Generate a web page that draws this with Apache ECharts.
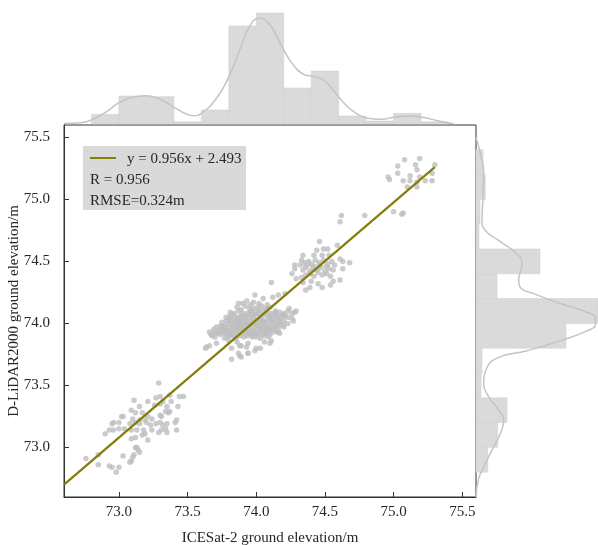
<!DOCTYPE html>
<html>
<head>
<meta charset="utf-8">
<script src="https://cdn.jsdelivr.net/npm/echarts@6/dist/echarts.min.js"></script>
<style>
  html, body { margin: 0; padding: 0; background: #fff; }
  #chart { width: 598px; height: 545px; }
</style>
</head>
<body>
<div id="chart"></div>
<script>
// axis ticks
const xTicks = [73.0, 73.5, 74.0, 74.5, 75.0, 75.5];
const yTicks = [73.0, 73.5, 74.0, 74.5, 75.0, 75.5];

// marginal histograms (bin edges shared by both)
const binEdges = [72.8, 73.0, 73.2, 73.4, 73.6, 73.8, 74.0, 74.2, 74.4, 74.6, 74.8, 75.0, 75.2, 75.4];
const topHist = [9.7, 28, 27.3, 2.3, 14, 98, 111, 36, 53, 8, 3, 10.7, 2.3];
const rightHist = [11.7, 21.7, 31, 5, 6, 90, 122, 21, 64, 3, 4, 9.3, 7];

// KDE curves
const topKdeX = [72.6, 72.72, 72.8, 72.91, 73.0, 73.1, 73.19, 73.3, 73.4, 73.49, 73.54, 73.6, 73.71, 73.8, 73.88, 73.95, 74.02, 74.09, 74.15, 74.2, 74.27, 74.34, 74.42, 74.49, 74.56, 74.63, 74.71, 74.81, 74.9, 75.0, 75.11, 75.21, 75.32, 75.44];
const topKdeY = [0.5, 1.3, 4, 12.3, 21.3, 26.7, 28.3, 24.7, 16.7, 10, 8.3, 10.7, 25.7, 47.3, 74, 97.3, 105.7, 100.7, 87.3, 74, 59, 50, 47.3, 44, 34, 22.3, 12.3, 5.7, 4.7, 6.7, 8, 6.7, 3.3, 0];
const rightKdeY = [75.5, 75.37, 75.21, 75.02, 74.83, 74.75, 74.66, 74.56, 74.48, 74.35, 74.29, 74.24, 74.16, 74.1, 74.04, 73.99, 73.94, 73.86, 73.78, 73.72, 73.63, 73.51, 73.41, 73.3, 73.22, 73.11, 72.98, 72.84, 72.75, 72.6];
const rightKdeX = [0, 4.3, 7.7, 7, 6, 9.3, 24.3, 41, 46, 42.7, 44.3, 57.7, 84.3, 107.7, 119.3, 119.3, 111, 84.3, 51, 21, 10.3, 7.7, 12.7, 22.7, 27.7, 24.3, 16, 7.7, 2.7, 0];

// scatter: [ICESat-2, D-LiDAR2000]
const clusterLow = [
  [73.29,73.52],[73.11,73.38],[73.15,73.33],[73.27,73.40],[73.30,73.41],[73.37,73.42],[73.44,73.41],[73.47,73.41],
  [73.21,73.37],[73.26,73.34],[73.30,73.35],[73.32,73.37],[73.35,73.33],[73.38,73.37],[73.43,73.33],[73.03,73.25],
  [73.02,73.25],[73.09,73.30],[73.12,73.28],[73.17,73.28],[73.21,73.25],[73.10,73.23],[73.15,73.22],[73.19,73.22],
  [73.24,73.23],[73.30,73.26],[73.31,73.25],[73.34,73.29],[73.36,73.28],[73.37,73.29],[72.96,73.20],[72.95,73.19],
  [73.00,73.20],[73.04,73.15],[73.08,73.19],[73.12,73.20],[73.15,73.19],[73.20,73.20],[73.23,73.18],[73.27,73.19],
  [73.30,73.20],[73.32,73.18],[73.35,73.19],[73.34,73.15],[73.41,73.20],[73.42,73.22],[72.90,73.11],[72.93,73.14],
  [72.96,73.14],[73.00,73.15],[73.09,73.14],[73.13,73.14],[73.18,73.14],[73.19,73.11],[73.24,73.14],[73.29,73.12],
  [73.31,73.14],[73.35,73.12],[73.42,73.14],[73.09,73.07],[73.12,73.08],[73.17,73.10],[73.21,73.06],[73.12,73.00],
  [73.14,72.98],[73.15,72.96],[73.10,72.92],[73.09,72.89],[73.03,72.93],[72.76,72.91],[72.85,72.94],[72.93,72.85],
  [72.95,72.84],[73.00,72.84],[72.98,72.80],[72.85,72.86],[73.11,72.94],[73.13,73.00],[73.08,72.88]
];
const clusterMid = [
  [74.11,74.33],[73.99,74.23],[74.05,74.20],[74.12,74.21],[74.16,74.23],[74.21,74.24],[73.87,74.16],[73.98,74.17],
  [74.28,74.09],[74.23,74.05],[73.75,73.98],[73.68,73.90],[73.72,73.92],[73.71,73.84],[73.64,73.81],[73.63,73.80],
  [73.82,73.80],[73.80,73.86],[73.89,73.82],[73.87,73.76],[73.82,73.71],[73.89,73.73],[73.94,73.76],[73.99,73.78],
  [74.00,73.80],[74.06,73.85],[74.11,73.86],[73.93,73.81],[73.86,73.85],[73.77,73.88],
  [73.86,74.13],[73.92,74.14],[73.98,74.12],[74.04,74.14],[74.10,74.13],
  [73.89,74.11],[73.96,74.10],[74.02,74.11],[74.08,74.12],[74.14,74.10],
  [73.81,74.09],[73.87,74.10],[73.93,74.08],[73.99,74.09],[74.05,74.10],[74.11,74.08],[74.17,74.09],[74.23,74.10],
  [73.83,74.07],[73.89,74.06],[73.96,74.07],[74.01,74.08],[74.08,74.06],[74.14,74.07],[74.20,74.07],
  [73.78,74.05],[73.85,74.04],[73.91,74.05],[73.97,74.06],[74.03,74.05],[74.09,74.04],[74.15,74.05],[74.21,74.06],
  [73.82,74.03],[73.88,74.02],[73.94,74.03],[74.00,74.03],[74.06,74.02],[74.12,74.03],[74.18,74.04],
  [73.75,74.01],[73.81,74.02],[73.87,74.01],[73.93,74.00],[73.99,74.01],[74.05,74.01],[74.11,74.02],[74.17,74.01],[74.23,74.00],
  [73.78,73.99],[73.84,73.98],[73.90,73.99],[73.96,74.00],[74.02,73.99],[74.08,73.98],[74.14,73.99],[74.20,73.99],
  [73.71,73.97],[73.77,73.96],[73.83,73.97],[73.89,73.97],[73.95,73.98],[74.02,73.97],[74.08,73.96],[74.14,73.97],[74.20,73.97],
  [73.74,73.95],[73.80,73.94],[73.86,73.95],[73.92,73.95],[73.98,73.94],[74.04,73.95],[74.10,73.95],[74.16,73.94],
  [73.70,73.93],[73.76,73.93],[73.82,73.92],[73.88,73.93],[73.94,73.93],[74.00,73.92],[74.06,73.93],[74.12,73.93],[74.17,73.92],
  [73.74,73.91],[73.80,73.90],[73.86,73.91],[73.92,73.91],[73.98,73.90],[74.04,73.91],[74.10,73.91],
  [73.79,73.89],[73.85,73.88],[73.91,73.89],[73.97,73.89],[74.03,73.88],[74.09,73.89],
  [73.95,74.12],[74.01,74.13],[74.07,74.12],
  [73.84,74.08],[73.90,74.08],[73.96,74.09],[74.02,74.09],[74.08,74.09],[74.14,74.09],[74.20,74.08],
  [73.81,74.06],[73.87,74.05],[73.93,74.06],[73.99,74.07],[74.05,74.07],[74.11,74.06],[74.17,74.06],
  [73.80,74.04],[73.86,74.03],[73.92,74.04],[73.98,74.04],[74.04,74.03],[74.10,74.05],[74.16,74.03],
  [73.78,74.02],[73.84,74.01],[73.90,74.02],[73.96,74.02],[74.02,74.02],[74.08,74.01],[74.14,74.02],[74.20,74.02],
  [73.81,74.00],[73.87,73.99],[73.93,74.01],[73.99,73.99],[74.05,74.00],[74.11,74.00],[74.17,73.99],
  [73.74,73.98],[73.80,73.97],[73.86,73.98],[73.92,73.98],[73.98,73.97],[74.05,73.98],[74.11,73.97],[74.17,73.98],
  [73.77,73.96],[73.83,73.95],[73.89,73.96],[73.95,73.96],[74.01,73.95],[74.07,73.96],[74.13,73.95],
  [73.73,73.94],[73.79,73.93],[73.85,73.94],[73.91,73.94],[73.97,73.93],[74.03,73.94],[74.09,73.94],[74.15,73.93],
  [73.77,73.92],[73.83,73.91],[73.89,73.92],[73.95,73.92],[74.01,73.91],[74.07,73.92],
  [73.82,73.90],[73.88,73.90],[73.94,73.90],[74.00,73.89],[74.06,73.90],
  [74.26,74.08],[74.29,74.10],[74.26,74.04],[74.24,74.12],[74.27,74.02],
  [73.67,73.91],[73.69,73.95],[73.66,73.93],[73.70,73.89],
  [73.90,74.16],[73.96,74.15],[74.02,74.16],[73.93,74.18],[74.08,74.15],
  [73.88,73.82],[73.94,73.84],[74.03,73.80],[74.10,73.84],[73.88,73.74],[73.94,73.76],[73.66,73.82]
];
const clusterHigh = [
  [74.62,74.87],[74.61,74.82],[74.79,74.87],[74.46,74.66],[74.59,74.63],[74.49,74.60],[74.52,74.60],[74.44,74.59],
  [74.42,74.55],[74.34,74.55],[74.28,74.47],[74.28,74.44],[74.26,74.40],[74.29,74.36],[74.34,74.33],[74.36,74.27],
  [74.39,74.29],[74.48,74.29],[74.54,74.31],[74.56,74.34],[74.61,74.35],[74.68,74.49],[74.63,74.50],[74.61,74.52],
  [74.63,74.44],[74.56,74.43],[74.53,74.55],[74.48,74.55],
  [74.33,74.51],[74.38,74.50],[74.43,74.51],[74.49,74.51],[74.55,74.50],[74.32,74.47],[74.37,74.47],[74.42,74.46],
  [74.46,74.47],[74.51,74.46],[74.57,74.47],[74.34,74.43],[74.39,74.42],[74.44,74.43],[74.50,74.42],[74.36,74.39],
  [74.42,74.38],[74.48,74.39],[74.54,74.38],[74.40,74.34],[74.45,74.32],[74.33,74.37],
  [74.35,74.49],[74.40,74.48],[74.46,74.49],[74.52,74.48],[74.36,74.45],[74.41,74.44],[74.47,74.45],[74.53,74.44],
  [74.39,74.40],[74.45,74.41],[74.51,74.40]
];
const clusterTop = [
  [75.08,75.32],[75.19,75.33],[75.03,75.27],[75.16,75.28],[75.30,75.28],[75.17,75.24],[74.96,75.18],[74.97,75.16],
  [75.03,75.21],[75.12,75.19],[75.19,75.18],[75.28,75.21],[75.07,75.15],[75.12,75.15],[75.17,75.14],[75.23,75.15],
  [75.28,75.15],[75.10,75.10],[75.17,75.10],[75.00,74.90],[75.06,74.88],[75.07,74.89]
];

// regression line as drawn
const fitX = [72.6, 75.3];
const fitY = [72.70, 75.26];

const serif = "'Liberation Serif', 'Times New Roman', serif";
const textColor = '#262626';
const olive = '#857d05';
const barGray = '#dadada';
const kdeGray = '#c4c4c4';

const chart = echarts.init(document.getElementById('chart'), null, { renderer: 'canvas' });

const topBins = topHist.map((h, i) => [binEdges[i], binEdges[i + 1], h]);
const rightBins = rightHist.map((w, i) => [binEdges[i], binEdges[i + 1], w]);

const valueAxisStyle = {
  axisLine: { show: true, onZero: false, lineStyle: { color: '#333', width: 1 } },
  splitLine: { show: false },
  nameMoveOverlap: false,
  nameTextStyle: { fontFamily: serif, fontSize: 15, color: textColor }
};

chart.setOption({
  animation: false,
  backgroundColor: '#fff',
  grid: [
    { left: 64, right: 122, top: 125, bottom: 48, show: true, borderColor: '#333', borderWidth: 1, outerBoundsMode: 'none', containLabel: false },
    { left: 64, right: 122, top: 10, bottom: 421, outerBoundsMode: 'none' },
    { left: 476, right: 0, top: 125, bottom: 48, outerBoundsMode: 'none' }
  ],
  xAxis: [
    Object.assign({
      gridIndex: 0, type: 'value', min: 72.6, max: 75.6,
      name: 'ICESat-2 ground elevation/m', nameLocation: 'middle', nameGap: 34,
      axisTick: { inside: true, length: 5, customValues: xTicks, lineStyle: { color: '#333' } },
      axisLabel: { customValues: xTicks, formatter: v => v.toFixed(1), margin: 8, fontFamily: serif, fontSize: 15, color: textColor }
    }, valueAxisStyle),
    { gridIndex: 1, type: 'value', min: 72.6, max: 75.6, show: false },
    { gridIndex: 2, type: 'value', min: 0, max: 122, show: false }
  ],
  yAxis: [
    Object.assign({
      gridIndex: 0, type: 'value', min: 72.6, max: 75.6,
      name: 'D-LiDAR2000 ground elevation/m', nameLocation: 'middle', nameGap: 42,
      axisTick: { inside: true, length: 5, customValues: yTicks, lineStyle: { color: '#333' } },
      axisLabel: { customValues: yTicks, formatter: v => v.toFixed(1), margin: 14, fontFamily: serif, fontSize: 15, color: textColor }
    }, valueAxisStyle),
    { gridIndex: 1, type: 'value', min: 0, max: 114, show: false },
    { gridIndex: 2, type: 'value', min: 72.6, max: 75.6, show: false }
  ],
  series: [
    {
      type: 'custom', xAxisIndex: 1, yAxisIndex: 1,
      data: topBins,
      encode: { x: [0, 1], y: 2 },
      renderItem: (params, api) => {
        const p0 = api.coord([api.value(0), 0]);
        const p1 = api.coord([api.value(1), api.value(2)]);
        return {
          type: 'rect',
          shape: { x: p0[0], y: p1[1], width: p1[0] - p0[0], height: p0[1] - p1[1] },
          style: { fill: barGray, stroke: '#cfcfcf', lineWidth: 0.5 }
        };
      }
    },
    {
      type: 'line', xAxisIndex: 1, yAxisIndex: 1,
      data: topKdeX.map((x, i) => [x, topKdeY[i]]),
      smooth: true, showSymbol: false,
      lineStyle: { color: kdeGray, width: 1.5 }
    },
    {
      type: 'custom', xAxisIndex: 2, yAxisIndex: 2,
      data: rightBins,
      encode: { x: 2, y: [0, 1] },
      renderItem: (params, api) => {
        const p0 = api.coord([0, api.value(0)]);
        const p1 = api.coord([api.value(2), api.value(1)]);
        return {
          type: 'rect',
          shape: { x: p0[0], y: p1[1], width: p1[0] - p0[0], height: p0[1] - p1[1] },
          style: { fill: barGray, stroke: '#cfcfcf', lineWidth: 0.5 }
        };
      }
    },
    {
      type: 'line', xAxisIndex: 2, yAxisIndex: 2,
      data: rightKdeX.map((x, i) => [x, rightKdeY[i]]),
      smooth: true, showSymbol: false,
      lineStyle: { color: kdeGray, width: 1.5 }
    },
    {
      type: 'scatter', xAxisIndex: 0, yAxisIndex: 0,
      data: clusterLow.concat(clusterMid, clusterHigh, clusterTop),
      symbolSize: 5.5,
      itemStyle: { color: '#bebebe' }
    },
    {
      type: 'line', xAxisIndex: 0, yAxisIndex: 0,
      data: fitX.map((x, i) => [x, fitY[i]]),
      showSymbol: false, z: 5,
      lineStyle: { color: olive, width: 2.2 }
    }
  ],
  graphic: [
    { type: 'rect', left: 83, top: 146, shape: { width: 163, height: 64 }, style: { fill: '#d9d9d9' }, z: 10 },
    { type: 'line', shape: { x1: 90, y1: 158, x2: 116, y2: 158 }, style: { stroke: olive, lineWidth: 2 }, z: 11 },
    { type: 'text', x: 127, y: 159, style: { text: 'y = 0.956x + 2.493', font: '15px ' + serif, fill: textColor, verticalAlign: 'middle' }, z: 11 },
    { type: 'text', x: 90, y: 180, style: { text: 'R = 0.956', font: '15px ' + serif, fill: textColor, verticalAlign: 'middle' }, z: 11 },
    { type: 'text', x: 90, y: 201, style: { text: 'RMSE=0.324m', font: '15px ' + serif, fill: textColor, verticalAlign: 'middle' }, z: 11 }
  ]
});
</script>
</body>
</html>
